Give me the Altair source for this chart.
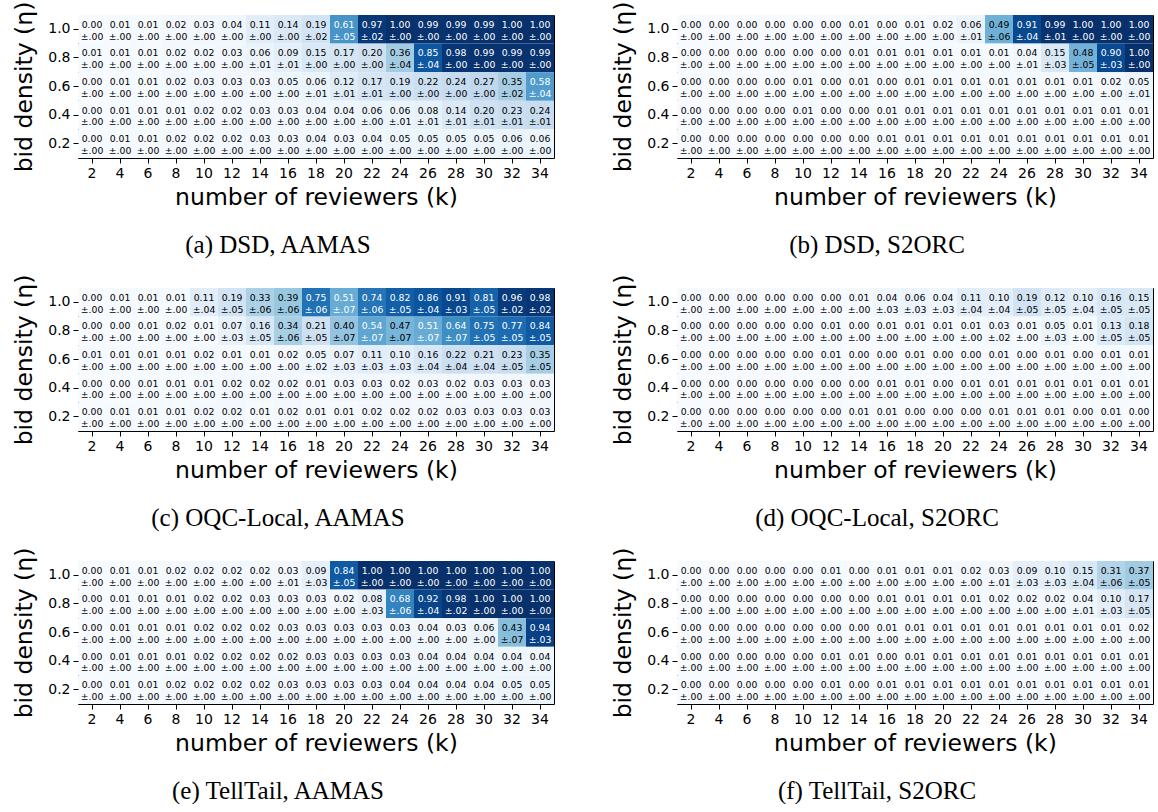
import altair as alt
import pandas as pd

K = [str(k) for k in range(2, 36, 2)]
ETA = ["1.0", "0.8", "0.6", "0.4", "0.2"]

# (a) DSD, AAMAS
DSD_AAMAS_MEAN = [
    [0.00, 0.01, 0.01, 0.02, 0.03, 0.04, 0.11, 0.14, 0.19, 0.61, 0.97, 1.00, 0.99, 0.99, 0.99, 1.00, 1.00],
    [0.01, 0.01, 0.01, 0.02, 0.02, 0.03, 0.06, 0.09, 0.15, 0.17, 0.20, 0.36, 0.85, 0.98, 0.99, 0.99, 0.99],
    [0.00, 0.01, 0.01, 0.02, 0.03, 0.03, 0.03, 0.05, 0.06, 0.12, 0.17, 0.19, 0.22, 0.24, 0.27, 0.35, 0.58],
    [0.00, 0.01, 0.01, 0.01, 0.02, 0.02, 0.03, 0.03, 0.04, 0.04, 0.06, 0.06, 0.08, 0.14, 0.20, 0.23, 0.24],
    [0.00, 0.01, 0.01, 0.02, 0.02, 0.02, 0.03, 0.03, 0.04, 0.03, 0.04, 0.05, 0.05, 0.05, 0.05, 0.06, 0.06],
]
DSD_AAMAS_STD = [
    [0.00, 0.00, 0.00, 0.00, 0.00, 0.00, 0.00, 0.00, 0.02, 0.05, 0.02, 0.00, 0.00, 0.00, 0.00, 0.00, 0.00],
    [0.00, 0.00, 0.00, 0.00, 0.00, 0.00, 0.01, 0.01, 0.00, 0.00, 0.00, 0.04, 0.04, 0.00, 0.00, 0.00, 0.00],
    [0.00, 0.00, 0.00, 0.00, 0.00, 0.00, 0.00, 0.00, 0.01, 0.01, 0.01, 0.00, 0.00, 0.00, 0.00, 0.02, 0.04],
    [0.00, 0.00, 0.00, 0.00, 0.00, 0.00, 0.00, 0.00, 0.00, 0.00, 0.00, 0.01, 0.01, 0.01, 0.01, 0.01, 0.01],
    [0.00, 0.00, 0.00, 0.00, 0.00, 0.00, 0.00, 0.00, 0.00, 0.00, 0.00, 0.00, 0.00, 0.00, 0.00, 0.00, 0.00],
]

# (b) DSD, S2ORC
DSD_S2ORC_MEAN = [
    [0.00, 0.00, 0.00, 0.00, 0.00, 0.00, 0.01, 0.00, 0.01, 0.02, 0.06, 0.49, 0.91, 0.99, 1.00, 1.00, 1.00],
    [0.00, 0.00, 0.00, 0.00, 0.00, 0.00, 0.01, 0.01, 0.01, 0.01, 0.01, 0.01, 0.04, 0.15, 0.48, 0.90, 1.00],
    [0.00, 0.00, 0.00, 0.00, 0.01, 0.00, 0.01, 0.00, 0.01, 0.01, 0.01, 0.01, 0.01, 0.01, 0.01, 0.02, 0.05],
    [0.00, 0.00, 0.00, 0.00, 0.01, 0.00, 0.00, 0.01, 0.01, 0.01, 0.01, 0.01, 0.01, 0.01, 0.01, 0.01, 0.01],
    [0.00, 0.00, 0.00, 0.00, 0.00, 0.00, 0.00, 0.01, 0.01, 0.01, 0.01, 0.01, 0.01, 0.01, 0.01, 0.01, 0.01],
]
DSD_S2ORC_STD = [
    [0.00, 0.00, 0.00, 0.00, 0.00, 0.00, 0.00, 0.00, 0.00, 0.00, 0.01, 0.06, 0.04, 0.01, 0.00, 0.00, 0.00],
    [0.00, 0.00, 0.00, 0.00, 0.00, 0.00, 0.00, 0.00, 0.00, 0.00, 0.00, 0.00, 0.01, 0.03, 0.05, 0.03, 0.00],
    [0.00, 0.00, 0.00, 0.00, 0.00, 0.00, 0.00, 0.00, 0.00, 0.00, 0.00, 0.00, 0.00, 0.00, 0.00, 0.00, 0.01],
    [0.00, 0.00, 0.00, 0.00, 0.00, 0.00, 0.00, 0.00, 0.00, 0.00, 0.00, 0.00, 0.00, 0.00, 0.00, 0.00, 0.00],
    [0.00, 0.00, 0.00, 0.00, 0.00, 0.00, 0.00, 0.00, 0.00, 0.00, 0.00, 0.00, 0.00, 0.00, 0.00, 0.00, 0.00],
]

# (c) OQC-Local, AAMAS
OQC_AAMAS_MEAN = [
    [0.00, 0.01, 0.01, 0.01, 0.11, 0.19, 0.33, 0.39, 0.75, 0.51, 0.74, 0.82, 0.86, 0.91, 0.81, 0.96, 0.98],
    [0.00, 0.00, 0.01, 0.02, 0.01, 0.07, 0.16, 0.34, 0.21, 0.40, 0.54, 0.47, 0.51, 0.64, 0.75, 0.77, 0.84],
    [0.01, 0.01, 0.01, 0.01, 0.02, 0.01, 0.01, 0.02, 0.05, 0.07, 0.11, 0.10, 0.16, 0.22, 0.21, 0.23, 0.35],
    [0.00, 0.00, 0.01, 0.01, 0.01, 0.02, 0.02, 0.02, 0.01, 0.03, 0.03, 0.02, 0.03, 0.02, 0.03, 0.03, 0.03],
    [0.00, 0.01, 0.01, 0.01, 0.02, 0.02, 0.01, 0.02, 0.01, 0.01, 0.02, 0.02, 0.02, 0.03, 0.03, 0.03, 0.03],
]
OQC_AAMAS_STD = [
    [0.00, 0.00, 0.00, 0.00, 0.04, 0.05, 0.06, 0.06, 0.06, 0.07, 0.06, 0.05, 0.04, 0.03, 0.05, 0.02, 0.02],
    [0.00, 0.00, 0.00, 0.00, 0.00, 0.03, 0.05, 0.06, 0.05, 0.07, 0.07, 0.07, 0.07, 0.07, 0.05, 0.05, 0.05],
    [0.00, 0.00, 0.00, 0.00, 0.00, 0.00, 0.00, 0.00, 0.02, 0.03, 0.03, 0.03, 0.04, 0.04, 0.04, 0.05, 0.05],
    [0.00, 0.00, 0.00, 0.00, 0.00, 0.00, 0.00, 0.00, 0.00, 0.00, 0.00, 0.00, 0.00, 0.00, 0.00, 0.00, 0.00],
    [0.00, 0.00, 0.00, 0.00, 0.00, 0.00, 0.00, 0.00, 0.00, 0.00, 0.00, 0.00, 0.00, 0.00, 0.00, 0.00, 0.00],
]

# (d) OQC-Local, S2ORC
OQC_S2ORC_MEAN = [
    [0.00, 0.00, 0.00, 0.00, 0.00, 0.00, 0.01, 0.04, 0.06, 0.04, 0.11, 0.10, 0.19, 0.12, 0.10, 0.16, 0.15],
    [0.00, 0.00, 0.00, 0.00, 0.00, 0.01, 0.00, 0.01, 0.01, 0.01, 0.01, 0.03, 0.01, 0.05, 0.01, 0.13, 0.18],
    [0.00, 0.00, 0.00, 0.00, 0.00, 0.01, 0.00, 0.00, 0.01, 0.00, 0.00, 0.01, 0.00, 0.01, 0.00, 0.01, 0.01],
    [0.00, 0.00, 0.00, 0.00, 0.00, 0.00, 0.00, 0.01, 0.01, 0.00, 0.01, 0.01, 0.01, 0.01, 0.01, 0.01, 0.01],
    [0.00, 0.00, 0.00, 0.00, 0.00, 0.00, 0.01, 0.01, 0.00, 0.00, 0.00, 0.01, 0.01, 0.01, 0.00, 0.01, 0.00],
]
OQC_S2ORC_STD = [
    [0.00, 0.00, 0.00, 0.00, 0.00, 0.00, 0.00, 0.03, 0.03, 0.03, 0.04, 0.04, 0.05, 0.05, 0.04, 0.05, 0.05],
    [0.00, 0.00, 0.00, 0.00, 0.00, 0.00, 0.00, 0.00, 0.00, 0.00, 0.00, 0.02, 0.00, 0.03, 0.00, 0.05, 0.05],
    [0.00, 0.00, 0.00, 0.00, 0.00, 0.00, 0.00, 0.00, 0.00, 0.00, 0.00, 0.00, 0.00, 0.00, 0.00, 0.00, 0.00],
    [0.00, 0.00, 0.00, 0.00, 0.00, 0.00, 0.00, 0.00, 0.00, 0.00, 0.00, 0.00, 0.00, 0.00, 0.00, 0.00, 0.00],
    [0.00, 0.00, 0.00, 0.00, 0.00, 0.00, 0.00, 0.00, 0.00, 0.00, 0.00, 0.00, 0.00, 0.00, 0.00, 0.00, 0.00],
]

# (e) TellTail, AAMAS
TELL_AAMAS_MEAN = [
    [0.00, 0.01, 0.01, 0.02, 0.02, 0.02, 0.02, 0.03, 0.09, 0.84, 1.00, 1.00, 1.00, 1.00, 1.00, 1.00, 1.00],
    [0.00, 0.01, 0.01, 0.01, 0.02, 0.02, 0.03, 0.03, 0.03, 0.02, 0.08, 0.68, 0.92, 0.98, 1.00, 1.00, 1.00],
    [0.00, 0.01, 0.01, 0.01, 0.02, 0.02, 0.02, 0.03, 0.03, 0.03, 0.03, 0.03, 0.04, 0.03, 0.06, 0.43, 0.94],
    [0.00, 0.01, 0.01, 0.01, 0.02, 0.02, 0.02, 0.02, 0.03, 0.03, 0.03, 0.03, 0.04, 0.04, 0.04, 0.04, 0.04],
    [0.00, 0.01, 0.01, 0.02, 0.02, 0.02, 0.02, 0.03, 0.03, 0.03, 0.03, 0.04, 0.04, 0.04, 0.04, 0.05, 0.05],
]
TELL_AAMAS_STD = [
    [0.00, 0.00, 0.00, 0.00, 0.00, 0.00, 0.00, 0.01, 0.03, 0.05, 0.00, 0.00, 0.00, 0.00, 0.00, 0.00, 0.00],
    [0.00, 0.00, 0.00, 0.00, 0.00, 0.00, 0.00, 0.00, 0.00, 0.00, 0.03, 0.06, 0.04, 0.02, 0.00, 0.00, 0.00],
    [0.00, 0.00, 0.00, 0.00, 0.00, 0.00, 0.00, 0.00, 0.00, 0.00, 0.00, 0.00, 0.00, 0.00, 0.00, 0.07, 0.03],
    [0.00, 0.00, 0.00, 0.00, 0.00, 0.00, 0.00, 0.00, 0.00, 0.00, 0.00, 0.00, 0.00, 0.00, 0.00, 0.00, 0.00],
    [0.00, 0.00, 0.00, 0.00, 0.00, 0.00, 0.00, 0.00, 0.00, 0.00, 0.00, 0.00, 0.00, 0.00, 0.00, 0.00, 0.00],
]

# (f) TellTail, S2ORC
TELL_S2ORC_MEAN = [
    [0.00, 0.00, 0.00, 0.00, 0.00, 0.01, 0.00, 0.01, 0.01, 0.01, 0.02, 0.03, 0.09, 0.10, 0.15, 0.31, 0.37],
    [0.00, 0.00, 0.00, 0.00, 0.00, 0.00, 0.00, 0.01, 0.01, 0.01, 0.01, 0.02, 0.02, 0.02, 0.04, 0.10, 0.17],
    [0.00, 0.00, 0.00, 0.00, 0.00, 0.00, 0.00, 0.01, 0.01, 0.01, 0.01, 0.01, 0.01, 0.01, 0.01, 0.01, 0.02],
    [0.00, 0.00, 0.00, 0.00, 0.00, 0.01, 0.01, 0.00, 0.01, 0.01, 0.01, 0.01, 0.01, 0.01, 0.01, 0.01, 0.01],
    [0.00, 0.00, 0.00, 0.00, 0.00, 0.01, 0.00, 0.01, 0.01, 0.01, 0.01, 0.01, 0.01, 0.01, 0.01, 0.01, 0.01],
]
TELL_S2ORC_STD = [
    [0.00, 0.00, 0.00, 0.00, 0.00, 0.00, 0.00, 0.00, 0.00, 0.00, 0.00, 0.01, 0.03, 0.03, 0.04, 0.06, 0.05],
    [0.00, 0.00, 0.00, 0.00, 0.00, 0.00, 0.00, 0.00, 0.00, 0.00, 0.00, 0.00, 0.00, 0.00, 0.01, 0.03, 0.05],
    [0.00, 0.00, 0.00, 0.00, 0.00, 0.00, 0.00, 0.00, 0.00, 0.00, 0.00, 0.00, 0.00, 0.00, 0.00, 0.00, 0.00],
    [0.00, 0.00, 0.00, 0.00, 0.00, 0.00, 0.00, 0.00, 0.00, 0.00, 0.00, 0.00, 0.00, 0.00, 0.00, 0.00, 0.00],
    [0.00, 0.00, 0.00, 0.00, 0.00, 0.00, 0.00, 0.00, 0.00, 0.00, 0.00, 0.00, 0.00, 0.00, 0.00, 0.00, 0.00],
]

CAPTIONS = ["(a) DSD, AAMAS", "(b) DSD, S2ORC", "(c) OQC-Local, AAMAS",
            "(d) OQC-Local, S2ORC", "(e) TellTail, AAMAS", "(f) TellTail, S2ORC"]

BLUES = ["#f7fbff", "#deebf7", "#c6dbef", "#9ecae1", "#6baed6",
         "#4292c6", "#2171b5", "#08519c", "#08306b"]
STOPS = [0, 0.125, 0.25, 0.375, 0.5, 0.625, 0.75, 0.875, 1.0]

W, H = 476, 143


def panel(mean, std, caption):
    rows = []
    for i, eta in enumerate(ETA):
        for j, k in enumerate(K):
            m = mean[i][j]
            s = std[i][j]
            rows.append({
                "eta": eta, "k": k, "m": m,
                "top": f"{m:.2f}",
                "bot": "±" + f"{s:.2f}"[1:],
            })
    df = pd.DataFrame(rows)
    base = alt.Chart(df).encode(
        x=alt.X("k:N", sort=K, title="number of reviewers (k)",
                axis=alt.Axis(labelAngle=0)),
        y=alt.Y("eta:N", sort=ETA, title="bid density (η)"),
    )
    rect = base.mark_rect().encode(
        color=alt.Color("m:Q", scale=alt.Scale(domain=STOPS, range=BLUES,
                                               interpolate="rgb"),
                        legend=None)
    )
    tcolor = alt.condition("datum.m > 0.5", alt.value("white"), alt.value("black"))
    t1 = base.mark_text(dy=-4.5, font="DejaVu Sans", fontSize=9.3,
                        baseline="middle").encode(text="top:N", color=tcolor)
    t2 = base.mark_text(dy=7.2, font="DejaVu Sans", fontSize=9.3,
                        baseline="middle").encode(text="bot:N", color=tcolor)
    return alt.layer(rect, t1, t2).properties(
        width=W, height=H,
        title=alt.TitleParams(caption, orient="bottom", font="Liberation Serif",
                              fontSize=25, fontWeight="normal", color="black",
                              offset=24, anchor="middle", dx=-38),
    )


pa = panel(DSD_AAMAS_MEAN, DSD_AAMAS_STD, CAPTIONS[0])
pb = panel(DSD_S2ORC_MEAN, DSD_S2ORC_STD, CAPTIONS[1])
pc = panel(OQC_AAMAS_MEAN, OQC_AAMAS_STD, CAPTIONS[2])
pd_ = panel(OQC_S2ORC_MEAN, OQC_S2ORC_STD, CAPTIONS[3])
pe = panel(TELL_AAMAS_MEAN, TELL_AAMAS_STD, CAPTIONS[4])
pf = panel(TELL_S2ORC_MEAN, TELL_S2ORC_STD, CAPTIONS[5])

chart = alt.vconcat(
    alt.hconcat(pa, pb, spacing=56),
    alt.hconcat(pc, pd_, spacing=56),
    alt.hconcat(pe, pf, spacing=56),
    spacing=15,
).properties(
    padding={"left": 12, "top": 0, "right": 0, "bottom": 0},
    background="white",
).configure_axis(
    labelFont="DejaVu Sans", titleFont="DejaVu Sans",
    labelFontSize=14, titleFontSize=23.5, titleFontWeight="normal",
    labelColor="black", titleColor="black", tickColor="black",
    tickSize=5, labelPadding=3, grid=False, domain=False,
).configure_axisY(
    titlePadding=11,
).configure_axisX(
    titlePadding=5,
).configure_view(
    stroke="black", strokeWidth=1,
)

chart.save("out.html", embed_options={"renderer": "svg", "actions": False})
